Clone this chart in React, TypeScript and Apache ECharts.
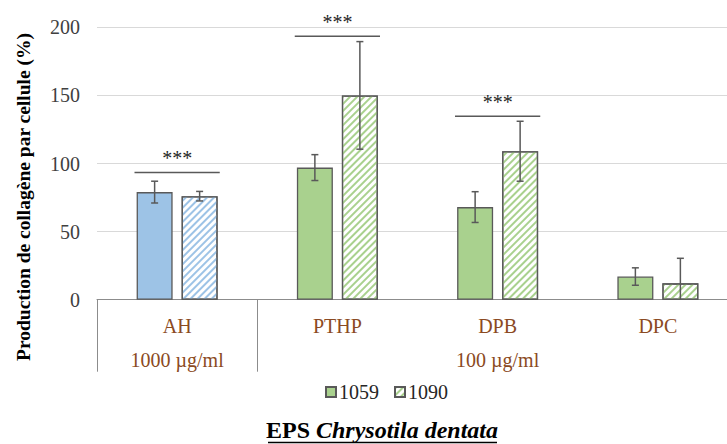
import React, { useEffect, useRef } from "react";
import * as echarts from "echarts";

const categories = ["AH", "PTHP", "DPB", "DPC"];
const concentrationLabels = ["1000 µg/ml", "", "100 µg/ml", ""];
const seriesNames = ["1059", "1090"];
const values1059 = [79, 97, 68, 17];
const errors1059 = [8, 9.5, 11.3, 6.4];
const values1090 = [76, 150, 109, 12];
const errors1090 = [3.5, 39.5, 22, 18.4];
const sigCategoryIndex = [0, 1, 2];
const sigLevels = [93.4, 193.4, 134.6];
const sigLabels = ["***", "***", "***"];
const yMin = 0;
const yMax = 200;
const yInterval = 50;
const categoryColors = ["#9DC3E6", "#A9D18E", "#A9D18E", "#A9D18E"];

const SERIF = "Liberation Serif, serif";
const BAR_W = 36;
const BAR_GAP = 9;
const BORDER = "#595959";

function hatch(color: string) {
  return {
    symbol: "rect",
    symbolSize: 1,
    color,
    backgroundColor: "#ffffff",
    dashArrayX: [1, 0],
    dashArrayY: [2, 2.4],
    rotation: -Math.PI / 4,
  };
}

function errorSeries(name: string, vals: number[], errs: number[], offset: number) {
  return {
    type: "custom",
    name,
    silent: true,
    z: 5,
    encode: { x: 0, y: [1, 2] },
    data: vals.map((v, i) => [i, v - errs[i], v + errs[i]]),
    renderItem: (params: any, api: any) => {
      const i = api.value(0);
      const lo = api.value(1);
      const hi = api.value(2);
      const top = api.coord([i, hi]);
      const bot = api.coord([i, Math.max(lo, yMin)]);
      const x = top[0] + offset;
      const style = { stroke: "#595959", lineWidth: 1.5 };
      const children: any[] = [
        { type: "line", shape: { x1: x, y1: top[1], x2: x, y2: bot[1] }, style },
        { type: "line", shape: { x1: x - 3.5, y1: top[1], x2: x + 3.5, y2: top[1] }, style },
      ];
      if (lo >= yMin) {
        children.push({ type: "line", shape: { x1: x - 3.5, y1: bot[1], x2: x + 3.5, y2: bot[1] }, style });
      }
      return { type: "group", children };
    },
  };
}

export default function App() {
  const ref = useRef<HTMLDivElement>(null);
  useEffect(() => {
    if (!ref.current) return;
    const chart = echarts.init(ref.current, null, { renderer: "svg" });
    const half = (BAR_W + BAR_GAP) / 2;
    const option: any = {
      animation: false,
      textStyle: { fontFamily: SERIF },
      grid: { left: 97, right: 2, top: 27.3, bottom: 444 - 299.7 },
      legend: {
        data: seriesNames,
        left: 325,
        top: 382,
        padding: 0,
        itemWidth: 10,
        itemHeight: 10,
        itemGap: 15,
        icon: "rect",
        textStyle: { fontFamily: SERIF, fontSize: 20, color: "#262626", padding: [0, 0, 0, -2] },
        selectedMode: false,
      },
      xAxis: {
        type: "category",
        data: categories,
        axisLine: { show: true, lineStyle: { color: "#8C8C8C", width: 1 } },
        axisTick: {
          show: true,
          length: 72,
          interval: (index: number) => index === 0 || index === 1,
          lineStyle: { color: "#8C8C8C", width: 1 },
        },
        axisLabel: {
          interval: 0,
          margin: 9,
          fontFamily: SERIF,
          fontSize: 20,
          lineHeight: 34,
          color: "#8B4A22",
          formatter: (value: string, index: number) =>
            concentrationLabels[index] ? value + "\n" + concentrationLabels[index] : value,
        },
      },
      yAxis: {
        type: "value",
        min: yMin,
        max: yMax,
        interval: yInterval,
        axisLine: { show: false },
        axisTick: { show: false },
        splitLine: { lineStyle: { color: "#D9D9D9", width: 1 } },
        axisLabel: { fontFamily: SERIF, fontSize: 20, color: "#404040", margin: 17 },
      },
      series: [
        {
          type: "bar",
          name: seriesNames[0],
          barWidth: BAR_W,
          barGap: (BAR_GAP / BAR_W) * 100 + "%",
          itemStyle: { color: "#A9D18E", borderColor: BORDER, borderWidth: 1.3 },
          data: values1059.map((v, i) => ({
            value: v,
            itemStyle: { color: categoryColors[i], borderColor: BORDER, borderWidth: 1.3 },
          })),
        },
        {
          type: "bar",
          name: seriesNames[1],
          barWidth: BAR_W,
          barGap: (BAR_GAP / BAR_W) * 100 + "%",
          itemStyle: { color: "#ffffff", borderColor: BORDER, borderWidth: 1.3, decal: hatch("#A9D18E") },
          data: values1090.map((v, i) => ({
            value: v,
            itemStyle: {
              color: "#ffffff",
              borderColor: BORDER,
              borderWidth: 1.3,
              decal: hatch(categoryColors[i]),
            },
          })),
        },
        errorSeries("err1059", values1059, errors1059, -half),
        errorSeries("err1090", values1090, errors1090, half),
        {
          type: "custom",
          name: "sig",
          silent: true,
          z: 6,
          encode: { x: 0, y: 1 },
          data: sigCategoryIndex.map((c, i) => [c, sigLevels[i], sigLabels[i]]),
          renderItem: (params: any, api: any) => {
            const p = api.coord([api.value(0), api.value(1)]);
            const w = api.size([1, 0])[0];
            const hl = w * 0.266;
            return {
              type: "group",
              children: [
                {
                  type: "line",
                  shape: { x1: p[0] - hl, y1: p[1], x2: p[0] + hl, y2: p[1] },
                  style: { stroke: "#595959", lineWidth: 1.5 },
                },
                {
                  type: "text",
                  x: p[0],
                  y: p[1] - 14,
                  style: {
                    text: sigLabels[params.dataIndex],
                    fill: "#262626",
                    fontFamily: SERIF,
                    fontSize: 20,
                    align: "center",
                    verticalAlign: "middle",
                  },
                },
              ],
            };
          },
        },
      ],
      graphic: [
        {
          type: "text",
          x: 23,
          y: 197,
          rotation: Math.PI / 2,
          style: {
            text: "Production de collagène par cellule (%)",
            fontFamily: SERIF,
            fontSize: 19.5,
            fontWeight: "bold",
            fill: "#000000",
            align: "center",
            verticalAlign: "middle",
          },
        },
        {
          type: "text",
          x: 382,
          y: 430,
          style: {
            text: "{a|EPS }{b|Chrysotila dentata}",
            align: "center",
            verticalAlign: "middle",
            rich: {
              a: { fontFamily: SERIF, fontSize: 24, fontWeight: "bold", fill: "#000" },
              b: { fontFamily: SERIF, fontSize: 24, fontWeight: "bold", fontStyle: "italic", fill: "#000" },
            },
          },
        },
        {
          type: "line",
          shape: { x1: 268, y1: 442.5, x2: 497, y2: 442.5 },
          style: { stroke: "#000", lineWidth: 1.5 },
        },
      ],
    };
    chart.setOption(option);
    return () => chart.dispose();
  }, []);
  return (
    <div style={{ position: "fixed", left: 0, top: 0, width: 727, height: 444, overflow: "hidden", background: "#fff" }}>
      <div ref={ref} style={{ width: 740, height: 444 }} />
    </div>
  );
}
